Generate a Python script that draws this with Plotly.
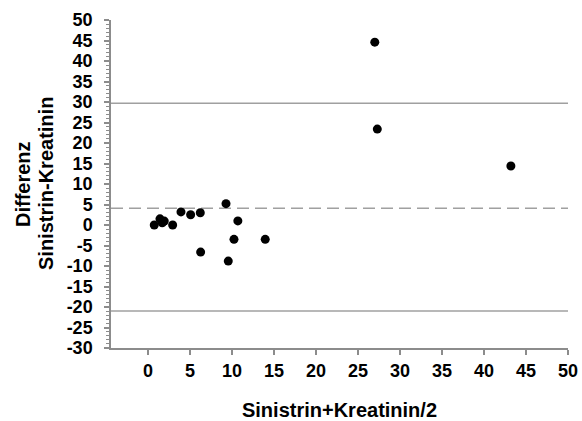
import plotly.graph_objects as go

# Data
mean_x = [0.75, 1.43, 1.7, 1.94, 2.94, 3.93, 5.08, 6.23, 9.29, 10.7, 10.24, 13.96, 6.27, 9.56, 27.0, 27.3, 43.2]
diff_y = [0.0, 1.5, 0.55, 0.95, 0.0, 3.2, 2.5, 3.0, 5.2, 1.0, -3.5, -3.5, -6.6, -8.8, 44.6, 23.4, 14.4]
mean_diff = 4.1
upper_loa = 29.7
lower_loa = -21.0
x_ticks = list(range(0, 51, 5))
y_ticks = list(range(-30, 51, 5))

FONT = "Liberation Sans, Arial, sans-serif"
AX = "#8c8c8c"

fig = go.Figure()
fig.add_trace(go.Scatter(
    x=mean_x, y=diff_y, mode="markers",
    marker=dict(color="black", size=9, line=dict(width=0)),
    showlegend=False, cliponaxis=False,
))

for yv, dash in [(upper_loa, "solid"), (lower_loa, "solid"), (mean_diff, "dash")]:
    fig.add_shape(type="line", xref="paper", x0=0, x1=1, yref="y", y0=yv, y1=yv,
                  line=dict(color="#a0a0a0", width=1.5, dash="solid" if dash == "solid" else "12px,6px"),
                  layer="below")

PW = 457  # plot width in px
fig.update_layout(
    width=582, height=421,
    margin=dict(l=111, r=14, t=20, b=73, autoexpand=False),
    paper_bgcolor="white", plot_bgcolor="white",
    font=dict(family=FONT, color="black", size=18),
    xaxis=dict(
        range=[-4.4, 50], tickvals=x_ticks, ticktext=[str(v) for v in x_ticks],
        showgrid=False, zeroline=False, showline=True, linecolor=AX, linewidth=1.5,
        ticks="outside", ticklen=5, tickcolor=AX, tickwidth=1.5,
        tickfont=dict(family=FONT, size=18, color="black", weight="bold"),
        ticklabelstandoff=1,
        title=dict(text="<b>Sinistrin+Kreatinin/2</b>", font=dict(family=FONT, size=20), standoff=25),
        automargin=False,
    ),
    yaxis=dict(
        range=[-30, 50], tickvals=y_ticks, ticktext=[str(v) for v in y_ticks],
        showgrid=False, zeroline=False, showline=True, linecolor=AX, linewidth=1.5,
        ticks="outside", ticklen=5, tickcolor=AX, tickwidth=1.5,
        minor=dict(dtick=1, ticks="outside", ticklen=3, tickcolor=AX, tickwidth=1),
        tickfont=dict(family=FONT, size=18, color="black", weight="bold"),
        ticklabelstandoff=8,
        automargin=False,
    ),
    annotations=[
        dict(text="<b>Differenz</b>", xref="paper", yref="paper", x=(23 - 111) / PW, y=0.5,
             xanchor="center", yanchor="middle", textangle=-90, showarrow=False,
             font=dict(family=FONT, size=20)),
        dict(text="<b>Sinistrin-Kreatinin</b>", xref="paper", yref="paper", x=(46 - 111) / PW, y=0.5,
             xanchor="center", yanchor="middle", textangle=-90, showarrow=False,
             font=dict(family=FONT, size=20)),
    ],
)

fig.write_html("out.html", config={"displayModeBar": False},
               post_script="document.body.style.margin='0';")
